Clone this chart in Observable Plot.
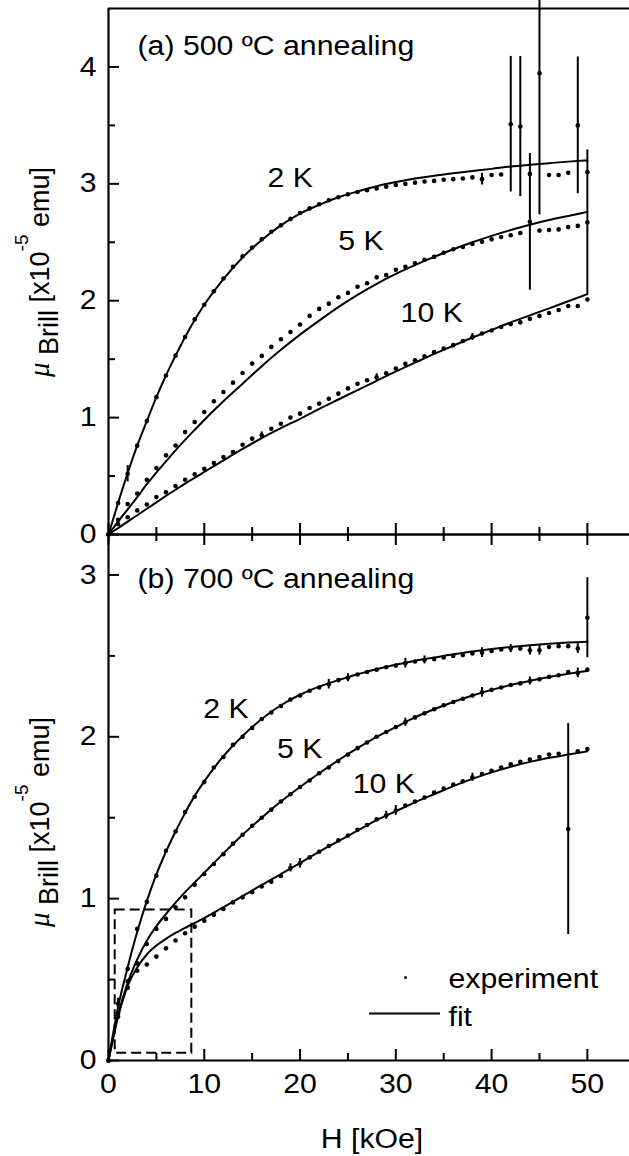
<!DOCTYPE html>
<html>
<head>
<meta charset="utf-8">
<script src="https://cdn.jsdelivr.net/npm/d3@7"></script>
<script src="https://cdn.jsdelivr.net/npm/@observablehq/plot@0.6"></script>
<style>
  html, body { margin: 0; padding: 0; background: #fff; }
  #wrap { position: relative; width: 629px; height: 1156px; overflow: hidden; background: #fff; }
  #wrap svg { position: absolute; left: 0; }
</style>
</head>
<body>
<div id="wrap"></div>
<script>
// ---------------- data ----------------
const fieldH = [0,1,2,3,4,5,6,7,8,9,10,11,12,13,14,15,16,17,18,19,20,21,22,23,24,25,26,27,28,29,30,31,32,33,34,35,36,37,38,39,40,41,42,43,44,45,46,47,48,49,50];
const temps = ["2 K", "5 K", "10 K"];

// (a) 500 ºC annealing — experiment
const a_exp_2K = [0,0.27,0.52,0.76,0.97,1.175,1.36,1.53,1.69,1.84,1.965,
  2.08,2.19,2.29,2.38,2.455,2.525,2.59,2.645,2.70,2.75,
  2.79,2.825,2.86,2.885,2.91,2.93,2.945,2.96,2.975,2.99,
  3.0,3.01,3.02,3.025,3.035,3.04,3.045,3.055,3.04,3.075,
  3.08,3.51,3.49,3.085,3.945,3.075,3.075,3.095,3.50,3.10];
const a_exp_5K = [0,0.125,0.26,0.35,0.468,0.568,0.677,0.762,0.876,0.962,1.048,
  1.139,1.219,1.299,1.382,1.462,1.528,1.605,1.67,1.733,1.796,
  1.87,1.93,1.975,2.03,2.067,2.12,2.15,2.2,2.22,2.265,
  2.29,2.32,2.35,2.375,2.41,2.44,2.46,2.485,2.505,2.525,
  2.545,2.56,2.58,2.675,2.6,2.605,2.61,2.63,2.64,2.67];
const a_exp_10K = [0,0.09,0.148,0.206,0.257,0.32,0.362,0.414,0.468,0.514,0.562,
  0.611,0.662,0.705,0.768,0.82,0.848,0.905,0.948,1.0,1.034,
  1.082,1.12,1.162,1.205,1.25,1.29,1.319,1.345,1.38,1.42,
  1.46,1.49,1.525,1.56,1.59,1.62,1.655,1.69,1.72,1.745,
  1.775,1.8,1.815,1.845,1.87,1.895,1.92,1.955,1.955,2.01];

// (b) 700 ºC annealing — experiment
const b_exp_2K = [0,0.35,0.566,0.813,0.98,1.142,1.296,1.415,1.535,1.63,1.72,
  1.81,1.875,1.95,2.0,2.055,2.11,2.15,2.19,2.23,2.255,
  2.285,2.305,2.325,2.35,2.365,2.385,2.40,2.415,2.43,2.44,
  2.455,2.465,2.475,2.48,2.49,2.50,2.505,2.515,2.52,2.53,
  2.54,2.545,2.545,2.535,2.535,2.555,2.56,2.56,2.545,2.736];
const b_exp_5K = [0,0.29,0.49,0.60,0.72,0.813,0.875,0.947,1.008,1.086,1.152,
  1.214,1.275,1.34,1.395,1.45,1.5,1.55,1.6,1.645,1.69,
  1.73,1.775,1.81,1.85,1.89,1.93,1.965,2.0,2.03,2.06,
  2.09,2.12,2.145,2.17,2.195,2.215,2.235,2.255,2.275,2.29,
  2.305,2.32,2.33,2.345,2.355,2.37,2.38,2.40,2.395,2.415];
const b_exp_10K = [0,0.27,0.45,0.555,0.593,0.642,0.693,0.741,0.786,0.827,0.864,
  0.90,0.936,0.977,1.008,1.04,1.075,1.105,1.14,1.19,1.218,
  1.255,1.29,1.325,1.36,1.39,1.425,1.455,1.49,1.515,1.545,
  1.575,1.60,1.625,1.655,1.68,1.705,1.725,1.75,1.77,1.79,
  1.81,1.83,1.845,1.86,1.875,1.89,1.895,1.43,1.91,1.925];

// fits
const fitH = [0,1,2,3,4,5,6,7,8,9,10,12,14,16,18,20,22,24,26,28,30,32,34,36,38,40,42,44,46,48,50];
const a_fit_2K = [0,0.27,0.525,0.76,0.97,1.175,1.36,1.53,1.69,1.835,1.965,2.185,2.37,2.52,2.645,2.745,2.82,2.885,2.935,2.98,3.015,3.045,3.07,3.091,3.11,3.128,3.148,3.163,3.177,3.19,3.20];
const a_fit_5K = [0,0.11,0.215,0.32,0.43,0.53,0.625,0.72,0.81,0.895,0.98,1.14,1.29,1.44,1.58,1.71,1.83,1.945,2.05,2.145,2.23,2.305,2.375,2.44,2.50,2.555,2.605,2.65,2.69,2.725,2.76];
const a_fit_10K = [0,0.055,0.11,0.165,0.22,0.275,0.33,0.383,0.435,0.485,0.535,0.635,0.732,0.825,0.91,0.99,1.075,1.155,1.235,1.315,1.395,1.47,1.545,1.615,1.685,1.75,1.815,1.875,1.935,1.995,2.056];
const b_fit_2K = [0,0.33,0.575,0.795,0.985,1.15,1.29,1.415,1.53,1.635,1.725,1.88,2.005,2.11,2.195,2.26,2.31,2.35,2.387,2.418,2.445,2.47,2.49,2.51,2.527,2.542,2.555,2.566,2.575,2.582,2.588];
const b_fit_5K = [0,0.28,0.48,0.625,0.74,0.83,0.905,0.975,1.04,1.10,1.16,1.28,1.395,1.50,1.60,1.69,1.775,1.855,1.93,2.0,2.06,2.12,2.17,2.215,2.255,2.29,2.32,2.345,2.37,2.39,2.407];
const b_fit_10K = [0,0.27,0.46,0.575,0.655,0.71,0.752,0.788,0.82,0.85,0.88,0.947,1.015,1.085,1.152,1.22,1.29,1.355,1.42,1.485,1.54,1.595,1.645,1.695,1.74,1.78,1.815,1.845,1.87,1.89,1.91];

// error bars [temperature, H, ±error]
const a_err = [["2 K",2,0.07],["2 K",39,0.05],["2 K",42,0.58],["2 K",43,0.60],["2 K",45,1.21],["2 K",49,0.585],
  ["5 K",44,0.585],["5 K",50,0.62],["10 K",16,0.03],["10 K",28,0.03],["10 K",38,0.03]];
const b_err = [["2 K",1,0.035],["2 K",23,0.03],["2 K",25,0.025],["2 K",31,0.03],["2 K",33,0.025],["2 K",39,0.03],
  ["2 K",42,0.025],["2 K",44,0.03],["2 K",45,0.03],["2 K",49,0.03],["2 K",50,0.247],
  ["5 K",31,0.025],["5 K",39,0.03],["5 K",44,0.025],["5 K",49,0.03],
  ["10 K",19,0.025],["10 K",20,0.03],["10 K",29,0.025],["10 K",30,0.03],["10 K",38,0.025],["10 K",48,0.652]];

// dashed inset region (H range, μ range) in panel (b)
const insetBox = [{h1: 0.7, h2: 8.7, v1: 0.045, v2: 0.93}];

// texts
const panelTitles = ["(a) 500 ºC annealing", "(b) 700 ºC annealing"];
const legendLabels = ["experiment", "fit"];
const xTitle = "H [kOe]";
const xMajor = [0,10,20,30,40,50];
const xMinor = [5,15,25,35,45];
const a_yMajor = [0,1,2,3,4], a_yMinor = [0.5,1.5,2.5,3.5];
const b_yMajor = [0,1,2,3],   b_yMinor = [0.5,1.5,2.5];

// label anchors (data coordinates)
const a_labels = [{t: panelTitles[0], h: 3.03, v: 4.10}, {t: temps[0], h: 16.6, v: 2.97}, {t: temps[1], h: 24.0, v: 2.43}, {t: temps[2], h: 30.5, v: 1.816}];
const b_labels = [{t: panelTitles[1], h: 3.03, v: 2.92}, {t: temps[0], h: 9.9, v: 2.117}, {t: temps[1], h: 17.6, v: 1.87}, {t: temps[2], h: 25.5, v: 1.654}];

// ---------------- build tables ----------------
function series(hs, vs, T) { return hs.map((h, i) => ({h, v: vs[i], T})); }
const a_expTable = {"2 K": a_exp_2K, "5 K": a_exp_5K, "10 K": a_exp_10K};
const b_expTable = {"2 K": b_exp_2K, "5 K": b_exp_5K, "10 K": b_exp_10K};
const a_exp = temps.flatMap(T => series(fieldH, a_expTable[T], T));
const b_exp = temps.flatMap(T => series(fieldH, b_expTable[T], T));
const a_fit = [...series(fitH, a_fit_2K, "2 K"), ...series(fitH, a_fit_5K, "5 K"), ...series(fitH, a_fit_10K, "10 K")];
const b_fit = [...series(fitH, b_fit_2K, "2 K"), ...series(fitH, b_fit_5K, "5 K"), ...series(fitH, b_fit_10K, "10 K")];
function errRows(list, table) {
  return list.map(([T, h, e]) => { const v = table[T][fieldH.indexOf(h)]; return {h, lo: v - e, hi: v + e}; });
}

// ---------------- layout ----------------
const FONT = "'Liberation Sans', Arial, Helvetica, sans-serif";
const FS = 27, STRETCH = 1.12;
const W = 629, ML = 108, FRAME_H = 526, frameW = W - ML;
const X_DOMAIN = [0, 54.4];
const SW = 2;

function baseMarks(yMajor, yMinor) {
  return [
    Plot.ruleX([0], {stroke: "black", strokeWidth: 2.2}),
    Plot.ruleY([0], {stroke: "black", strokeWidth: 2.2}),
    Plot.tickY(yMajor, {y: d => d, insetRight: frameW - 11, stroke: "black", strokeWidth: SW}),
    Plot.tickY(yMinor, {y: d => d, insetRight: frameW - 7, stroke: "black", strokeWidth: SW}),
    Plot.tickX(xMajor, {x: d => d, insetTop: FRAME_H - 11, stroke: "black", strokeWidth: SW}),
    Plot.tickX(xMinor, {x: d => d, insetTop: FRAME_H - 7, stroke: "black", strokeWidth: SW}),
    Plot.text(yMajor, {x: 0, y: d => d, text: d => String(d), textAnchor: "end", dx: -12, lineAnchor: "middle", fontSize: FS, fill: "black"})
  ];
}
function dataMarks(fit, exp, errs, labels) {
  return [
    Plot.line(fit, {x: "h", y: "v", z: "T", curve: "monotone-x", stroke: "black", strokeWidth: SW}),
    Plot.ruleX(errs, {x: "h", y1: "lo", y2: "hi", stroke: "black", strokeWidth: SW}),
    Plot.dot(exp, {x: "h", y: "v", r: 2.3, fill: "black", stroke: "none"}),
    Plot.text(labels, {x: "h", y: "v", text: "t", textAnchor: "start", lineAnchor: "bottom", fontSize: FS, fill: "black"})
  ];
}

const svgA = Plot.plot({
  width: W, height: 545, marginTop: 8, marginBottom: 11, marginLeft: ML, marginRight: 0,
  style: {background: "transparent", overflow: "visible", fontFamily: FONT, color: "black"},
  x: {domain: X_DOMAIN, axis: null},
  y: {domain: [0, 4.5], axis: null},
  marks: [
    Plot.ruleY([4.5], {stroke: "black", strokeWidth: SW}),
    ...baseMarks(a_yMajor, a_yMinor),
    ...dataMarks(a_fit, a_exp, errRows(a_err, a_expTable), a_labels)
  ]
});

const svgB = Plot.plot({
  width: W, height: 632, marginTop: 10, marginBottom: 96, marginLeft: ML, marginRight: 0,
  style: {background: "transparent", overflow: "visible", fontFamily: FONT, color: "black"},
  x: {domain: X_DOMAIN, axis: null},
  y: {domain: [0, 3.25], axis: null},
  marks: [
    Plot.ruleY([3.25], {stroke: "black", strokeWidth: 2.2}),
    Plot.tickX(xMajor, {x: d => d, insetBottom: FRAME_H - 11, stroke: "black", strokeWidth: SW}),
    Plot.tickX(xMinor, {x: d => d, insetBottom: FRAME_H - 7, stroke: "black", strokeWidth: SW}),
    ...baseMarks(b_yMajor, b_yMinor),
    Plot.text(xMajor, {x: d => d, y: 0, text: d => String(d), lineAnchor: "top", dy: 13, fontSize: FS, fill: "black"}),
    Plot.text([xTitle], {frameAnchor: "bottom", dx: 3, dy: 87, lineAnchor: "bottom", fontSize: FS, fill: "black"}),
    Plot.rect(insetBox, {x1: "h1", x2: "h2", y1: "v1", y2: "v2", fill: "none", stroke: "black", strokeWidth: SW, strokeDasharray: "10,5"}),
    ...dataMarks(b_fit, b_exp, errRows(b_err, b_expTable), b_labels),
    // legend
    Plot.dot([legendLabels[0]], {frameAnchor: "bottom-left", dx: 297, dy: -83, r: 1.5, fill: "black", stroke: "none"}),
    Plot.text([legendLabels[0]], {frameAnchor: "bottom-left", dx: 340, dy: -73, textAnchor: "start", lineAnchor: "bottom", fontSize: FS, fill: "black"}),
    Plot.ruleY([0], {dy: -47, insetLeft: 261, insetRight: 189, stroke: "black", strokeWidth: SW}),
    Plot.text([legendLabels[1]], {frameAnchor: "bottom-left", dx: 340, dy: -35, textAnchor: "start", lineAnchor: "bottom", fontSize: FS, fill: "black"})
  ]
});

const wrap = document.getElementById("wrap");
svgA.style.top = "0px";
svgB.style.top = "524px";
wrap.append(svgA);
wrap.append(svgB);

function addYLabel(svg, cy) {
  const t = d3.select(svg).append("text")
    .attr("transform", `translate(49,${cy}) rotate(-90)`)
    .attr("text-anchor", "middle")
    .attr("font-family", FONT).attr("font-size", FS).attr("fill", "black");
  t.append("tspan").attr("font-family", "'Liberation Serif', 'DejaVu Serif', serif").attr("font-style", "italic").attr("font-size", 29).text("μ");
  t.append("tspan").text(" ");
  t.append("tspan").attr("dy", 9).text("Brill");
  t.append("tspan").attr("dy", -9).text(" [x10");
  t.append("tspan").attr("dy", -21).attr("font-size", 19).text("-5");
  t.append("tspan").attr("dy", 21).text(" emu]");
}
addYLabel(svgA, 272);
addYLabel(svgB, 822 - 524);

function stretch(svg) {
  svg.querySelectorAll("text").forEach(t => {
    if (t.querySelector("tspan")) return;
    const L = t.getComputedTextLength();
    if (L > 0) {
      t.setAttribute("textLength", (L * STRETCH).toFixed(1));
      t.setAttribute("lengthAdjust", "spacingAndGlyphs");
    }
  });
}
stretch(svgA);
stretch(svgB);
</script>
</body>
</html>
